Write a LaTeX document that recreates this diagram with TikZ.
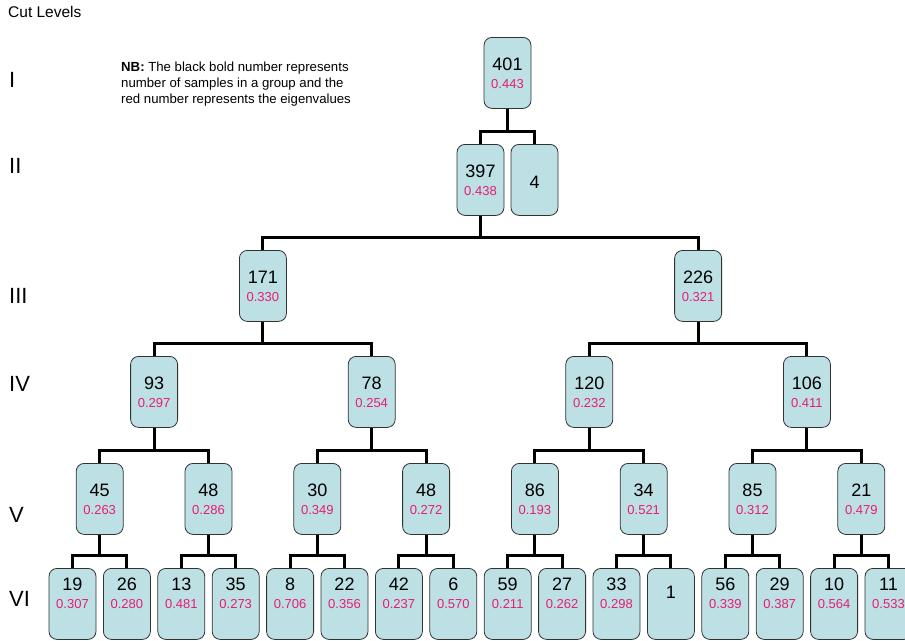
\documentclass[tikz,border=0pt]{standalone}
\usepackage{fontspec}
\setmainfont{Liberation Sans}
\definecolor{boxfill}{RGB}{188,224,227}
\definecolor{boxedge}{RGB}{50,50,50}
\definecolor{eigred}{RGB}{232,28,120}
% #1 name, #2 x, #3 top, #4 number, #5 eigenvalue, #6 number offset, #7 eigenvalue offset
\newcommand{\tnode}[7]{%
  \node[cbox] (#1) at (#2,#3) {};
  \node[numtxt] (#1n) at ([yshift=-#6pt]#1.north) {#4};
  \node[eigtxt] (#1e) at ([yshift=-#7pt]#1.north) {#5};
}
% #1 parent, #2 left child, #3 right child
\newcommand{\tconn}[3]{%
  \draw[conn] (#2.north) -- ++(0,-13) coordinate (#1h) -| (#3.north);
  \draw[conn] (#1.south) -- (#1.south |- #1h);
}
\begin{document}
\begin{tikzpicture}[x=1pt,y=-1pt,
  cbox/.style={draw=boxedge, fill=boxfill, line width=0.8pt, rounded corners=8pt,
    minimum width=47pt, minimum height=71pt, inner sep=0pt, anchor=north},
  numtxt/.style={font=\fontsize{18}{18}\selectfont, inner sep=0pt, text=black},
  eigtxt/.style={font=\fontsize{13}{13}\selectfont, inner sep=0pt, text=eigred},
  lvl/.style={font=\fontsize{22}{22}\selectfont, inner sep=0pt, anchor=west},
  conn/.style={line width=3pt, line join=miter}]
\useasboundingbox (0,0) rectangle (905,640);

% titles
\node[font=\fontsize{15.5}{16}\selectfont, inner sep=0pt, anchor=west] (title) at (8,12) {Cut Levels};
\node[font=\fontsize{13.2}{16}\selectfont, inner sep=0pt, anchor=north west, align=left] (nb) at (121,62)
  {\textbf{NB:} The black bold number represents\\number of samples in a group and the\\red number represents the eigenvalues};

% level labels
\node[lvl] (l1) at (9,80) {I};
\node[lvl] (l2) at (9,166) {II};
\node[lvl] (l3) at (9,296) {III};
\node[lvl] (l4) at (9,384) {IV};
\node[lvl] (l5) at (9,515) {V};
\node[lvl] (l6) at (9,599) {VI};

% level I
\tnode{a}{507.5}{37}{401}{0.443}{27.5}{47.5}
% level II
\tnode{b1}{480.5}{144}{397}{0.438}{27.5}{47.5}
\node[cbox] (b2) at (534.5,144) {};
\node[numtxt] (b2n) at ([yshift=-38pt]b2.north) {4};
% level III
\tnode{c1}{262.9}{250}{171}{0.330}{27.5}{47.5}
\tnode{c2}{698.1}{250}{226}{0.321}{27.5}{47.5}
% level IV
\tnode{d1}{154.1}{356}{93}{0.297}{27}{47.5}
\tnode{d2}{371.7}{356}{78}{0.254}{27}{47.5}
\tnode{d3}{589.3}{356}{120}{0.232}{27}{47.5}
\tnode{d4}{806.9}{356}{106}{0.411}{27}{47.5}
% level V
\tnode{e1}{99.7}{463}{45}{0.263}{27}{47}
\tnode{e2}{208.5}{463}{48}{0.286}{27}{47}
\tnode{e3}{317.3}{463}{30}{0.349}{27}{47}
\tnode{e4}{426.1}{463}{48}{0.272}{27}{47}
\tnode{e5}{534.9}{463}{86}{0.193}{27}{47}
\tnode{e6}{643.7}{463}{34}{0.521}{27}{47}
\tnode{e7}{752.5}{463}{85}{0.312}{27}{47}
\tnode{e8}{861.3}{463}{21}{0.479}{27}{47}
% level VI
\tnode{f1}{72.5}{568}{19}{0.307}{16}{36}
\tnode{f2}{126.9}{568}{26}{0.280}{16}{36}
\tnode{f3}{181.3}{568}{13}{0.481}{16}{36}
\tnode{f4}{235.7}{568}{35}{0.273}{16}{36}
\tnode{f5}{290.1}{568}{8}{0.706}{16}{36}
\tnode{f6}{344.5}{568}{22}{0.356}{16}{36}
\tnode{f7}{398.9}{568}{42}{0.237}{16}{36}
\tnode{f8}{453.3}{568}{6}{0.570}{16}{36}
\tnode{f9}{507.7}{568}{59}{0.211}{16}{36}
\tnode{f10}{562.1}{568}{27}{0.262}{16}{36}
\tnode{f11}{616.5}{568}{33}{0.298}{16}{36}
\node[cbox] (f12) at (670.9,568) {};
\node[numtxt] (f12n) at ([yshift=-24pt]f12.north) {1};
\tnode{f13}{725.3}{568}{56}{0.339}{16}{36}
\tnode{f14}{779.7}{568}{29}{0.387}{16}{36}
\tnode{f15}{834.1}{568}{10}{0.564}{16}{36}
\tnode{f16}{888.5}{568}{11}{0.533}{16}{36}

% connectors
\tconn{a}{b1}{b2}
\tconn{b1}{c1}{c2}
\tconn{c1}{d1}{d2}
\tconn{c2}{d3}{d4}
\tconn{d1}{e1}{e2}
\tconn{d2}{e3}{e4}
\tconn{d3}{e5}{e6}
\tconn{d4}{e7}{e8}
\tconn{e1}{f1}{f2}
\tconn{e2}{f3}{f4}
\tconn{e3}{f5}{f6}
\tconn{e4}{f7}{f8}
\tconn{e5}{f9}{f10}
\tconn{e6}{f11}{f12}
\tconn{e7}{f13}{f14}
\tconn{e8}{f15}{f16}
\end{tikzpicture}
\end{document}
